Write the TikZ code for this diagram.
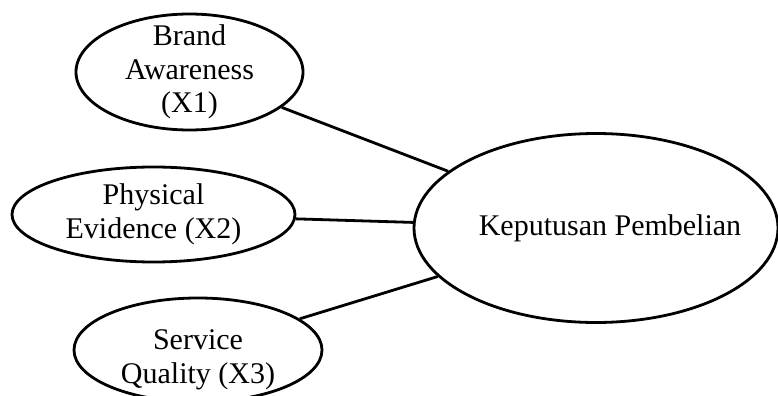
\documentclass[tikz,border=0pt]{standalone}
\usepackage{fontspec}
\setmainfont{Liberation Serif}
\usetikzlibrary{shapes.geometric}
\begin{document}
\begin{tikzpicture}[x=0.5pt,y=-0.5pt,
  oval/.style={ellipse, draw, line width=1.4pt, inner sep=0pt},
  txt/.style={align=center, font=\fontsize{15}{16.8}\selectfont},
  link/.style={line width=1.4pt}]
\useasboundingbox (0,0) rectangle (778,396);
\node[oval, minimum width=113.5pt, minimum height=58pt,
  label={[txt]center:Brand\\Awareness\\(X1)}] (x1) at (189.5,72) {};
\node[oval, minimum width=141.5pt, minimum height=47.5pt,
  label={[txt]center:Physical\\Evidence (X2)}] (x2) at (153.5,214.5) {};
\node[oval, minimum width=124pt, minimum height=52pt,
  label={[txt, yshift=-5pt]center:Service\\Quality (X3)}] (x3) at (198,350) {};
\node[oval, minimum width=182pt, minimum height=94.5pt,
  label={[txt, xshift=7pt]center:Keputusan Pembelian}] (kp) at (596,228) {};
\draw[link] (x1) -- (kp);
\draw[link] (x2) -- (kp);
\draw[link] (x3) -- (kp);
\end{tikzpicture}
\end{document}
